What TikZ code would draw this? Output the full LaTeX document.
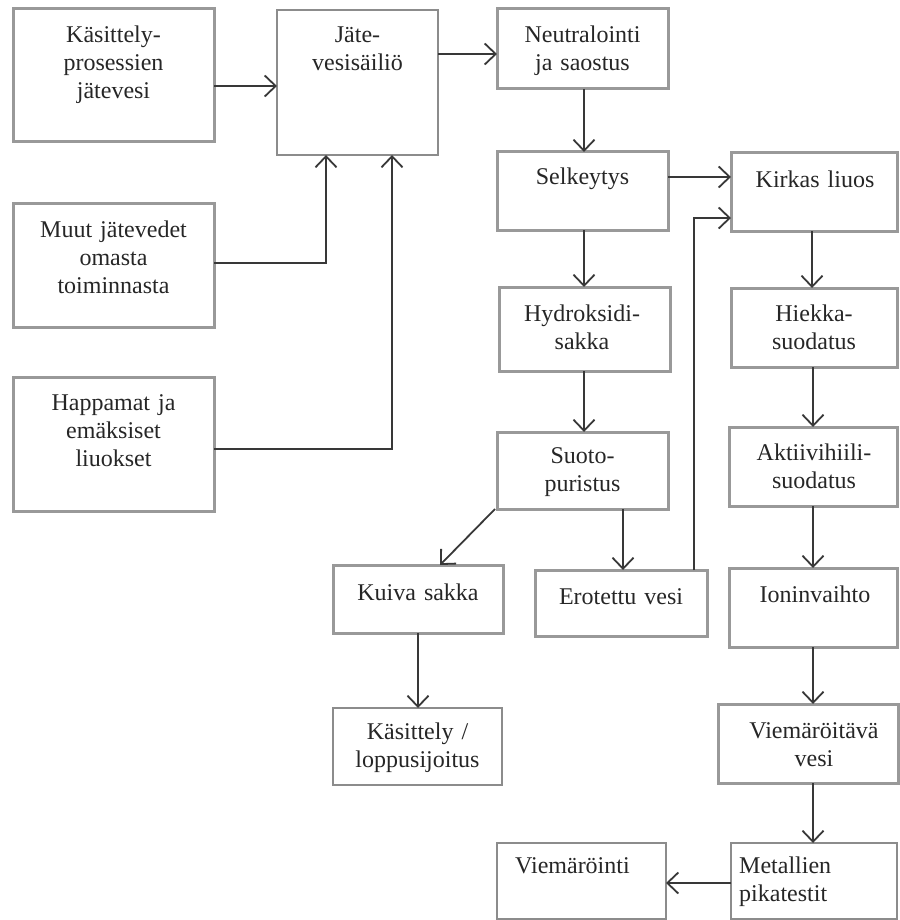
\documentclass[tikz,border=0pt]{standalone}
\usepackage{fontspec}
\setmainfont{Liberation Serif}
\usetikzlibrary{arrows.meta,calc}
\tikzset{
  tb/.style={draw=black!40, line width=3pt, inner sep=0pt, outer sep=0pt, anchor=north west},
  nb/.style={draw=black!45, line width=1.5pt, inner sep=0pt, outer sep=0pt, anchor=north west},
  lbl/.style={inner sep=0pt, text width=200pt, align=center, text=black!85,
    font=\fontsize{24}{28}\selectfont, anchor=base},
  lbll/.style={lbl, align=left, anchor=base west},
  arr/.style={draw=black!78, line width=1.8pt, -{Straight Barb[length=11pt,width=21pt]}}
}
\newcommand\bx[6]{\node[#1, minimum width={(#5-#3)*1pt}, minimum height={(#6-#4)*1pt}] (#2) at (#3,#4) {};}
\begin{document}
\begin{tikzpicture}[x=1pt,y=-1pt]
\useasboundingbox (0,0) rectangle (899,920);
% boxes
\bx{tb}{kp}{13}{9}{214}{142}
\bx{nb}{jv}{277}{10}{438}{155}
\bx{tb}{mu}{13}{203}{214}{327}
\bx{tb}{ha}{13}{377}{214}{511}
\bx{tb}{ne}{497}{9}{668}{89}
\bx{tb}{se}{497}{152}{668}{230}
\bx{tb}{ki}{731}{153}{897}{231}
\bx{tb}{hy}{499}{287}{670}{371}
\bx{tb}{hi}{731}{288}{897}{367}
\bx{tb}{su}{497}{432}{668}{509}
\bx{tb}{ak}{729}{427}{897}{506}
\bx{tb}{ku}{333}{565}{503}{633}
\bx{tb}{er}{535}{570}{707}{636}
\bx{tb}{io}{729}{568}{897}{647}
\bx{nb}{kl}{333}{708}{502}{785}
\bx{tb}{vv}{718}{704}{898}{783}
\bx{nb}{vi}{497}{843}{666}{919}
\bx{nb}{me}{731}{843}{897}{919}
% texts
\node[lbl] (kpt) at (113.5,43) {Käsittely-\\prosessien\\jätevesi};
\node[lbl] (jvt) at (357.5,43) {Jäte-\\vesisäiliö};
\node[lbl] (mut) at (113.5,237) {Muut jätevedet\\omasta\\toiminnasta};
\node[lbl] (hat) at (113.5,410) {Happamat ja\\emäksiset\\liuokset};
\node[lbl] (net) at (582.5,43) {Neutralointi\\ja saostus};
\node[lbl] (set) at (582.5,185) {Selkeytys};
\node[lbl] (kit) at (815,187) {Kirkas liuos};
\node[lbl] (hyt) at (582,321) {Hydroksidi-\\sakka};
\node[lbl] (hit) at (814,321) {Hiekka-\\suodatus};
\node[lbl] (sut) at (582.5,463) {Suoto-\\puristus};
\node[lbl] (akt) at (814,460) {Aktiivihiili-\\suodatus};
\node[lbl] (kut) at (418,600) {Kuiva sakka};
\node[lbl] (ert) at (621,604) {Erotettu vesi};
\node[lbl] (iot) at (815,602) {Ioninvaihto};
\node[lbl] (klt) at (417.5,739) {Käsittely /\\loppusijoitus};
\node[lbl] (vvt) at (814,738) {Viemäröitävä\\vesi};
\node[lbll] (vit) at (515,873) {Viemäröinti};
\node[lbll] (met) at (739,873) {Metallien\\pikatestit};
% connectors
\draw[arr] ([yshift=-10.5pt]kp.east) -- ([yshift=-10.5pt]kp.east -| jv.west);
\draw[arr] ([yshift=2pt]mu.east) -| ([xshift=-31.5pt]jv.south);
\draw[arr] ([yshift=-5pt]ha.east) -| ([xshift=34.5pt]jv.south);
\draw[arr] ([yshift=-5pt]ne.west -| jv.east) -- ([yshift=-5pt]ne.west);
\draw[arr] ([xshift=1.5pt]ne.south) -- ([xshift=1.5pt]ne.south |- se.north);
\draw[arr] ([yshift=14pt]se.east) -- ([yshift=14pt]se.east -| ki.west);
\draw[arr] ([xshift=1.5pt]se.south) -- ([xshift=1.5pt]se.south |- hy.north);
\draw[arr] ([xshift=-0.5pt]hy.south) -- ([xshift=-0.5pt]hy.south |- su.north);
\draw[arr] ([xshift=-2pt]su.south west) -- ([xshift=22pt]ku.north);
\draw[arr] ([xshift=2pt]er.north |- su.south) -- ([xshift=2pt]er.north);
\draw[arr] ([xshift=-13pt]er.north east) |- ([yshift=-26pt]ki.west);
\draw[arr] ([xshift=-2pt]ki.south) -- ([xshift=-2pt]ki.south |- hi.north);
\draw[arr] ([xshift=-1pt]hi.south) -- ([xshift=-1pt]hi.south |- ak.north);
\draw[arr] (ak.south) -- (ak.south |- io.north);
\draw[arr] (io.south) -- (io.south |- vv.north);
\draw[arr] ([xshift=-1pt]me.north |- vv.south) -- ([xshift=-1pt]me.north);
\draw[arr] ([yshift=-2pt]me.west) -- ([yshift=-2pt]me.west -| vi.east);
\draw[arr] (ku.south) -- (ku.south |- kl.north);
\end{tikzpicture}
\end{document}
